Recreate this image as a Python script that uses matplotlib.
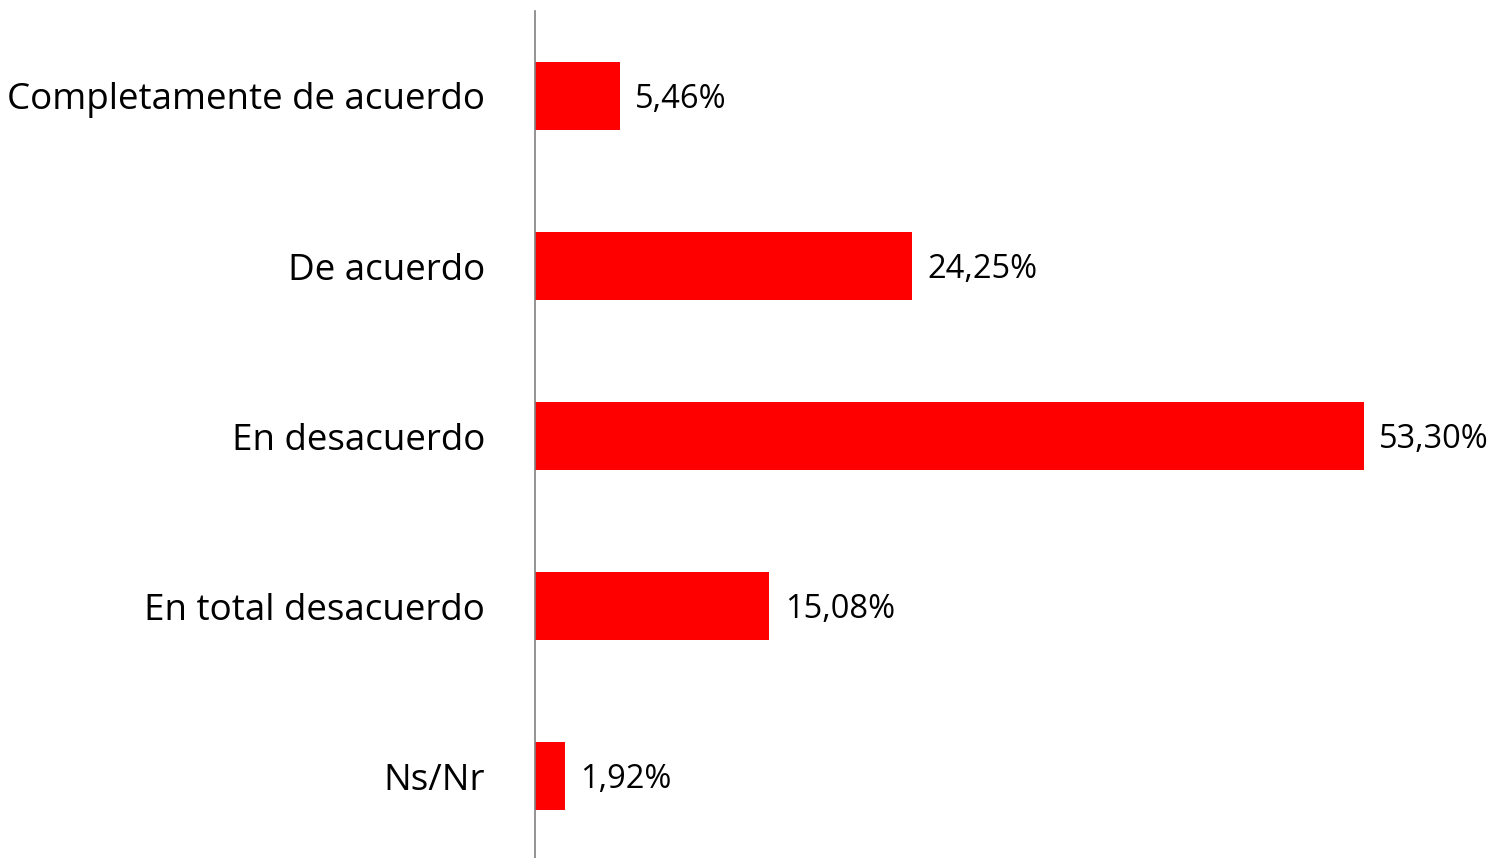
import matplotlib
matplotlib.use("Agg")
import matplotlib.pyplot as plt

categories = ["Completamente de acuerdo", "De acuerdo", "En desacuerdo", "En total desacuerdo", "Ns/Nr"]
values = [5.46, 24.25, 53.30, 15.08, 1.92]
value_labels = ["5,46%", "24,25%", "53,30%", "15,08%", "1,92%"]

W, H = 1495, 858
fig = plt.figure(figsize=(W / 100, H / 100), dpi=100)
left_px, right_px = 535, 1495
top_px, bot_px = 11, 861
ax = fig.add_axes([left_px / W, (H - bot_px) / H, (right_px - left_px) / W, (bot_px - top_px) / H])

ypos = list(range(len(categories)))
ax.barh(ypos, values, height=0.4, color="#ff0000")
ax.set_ylim(len(categories) - 0.5, -0.5)
ax.set_xlim(0, (right_px - left_px) / 15.55)

for y, v, lab in zip(ypos, values, value_labels):
    ax.annotate(lab, (v, y), xytext=(11, 0), textcoords="offset points",
                va="center_baseline", ha="left", fontsize=23.5, family="Open Sans", color="black")

ax.set_yticks(ypos)
ax.set_yticklabels(categories, fontsize=26.5, family="Open Sans")
for t in ax.get_yticklabels():
    t.set_verticalalignment("center_baseline")
ax.tick_params(axis="y", length=0, pad=36)
ax.set_xticks([])
for s in ["top", "right", "bottom"]:
    ax.spines[s].set_visible(False)
ax.spines["left"].set_color("#808080")
ax.spines["left"].set_linewidth(1.2)

fig.savefig("out.png", dpi=100)
